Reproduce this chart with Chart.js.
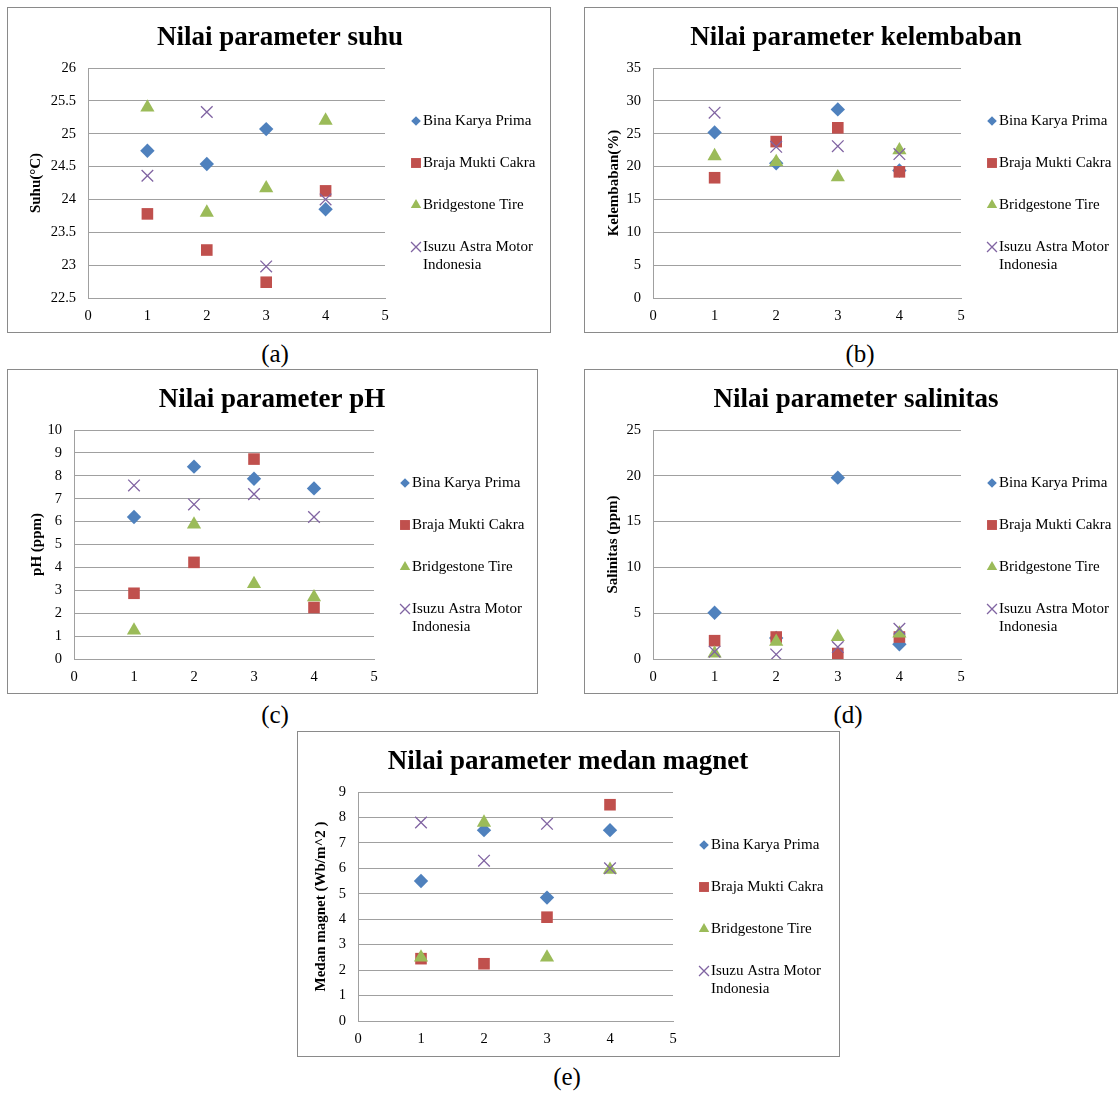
<!DOCTYPE html>
<html><head><meta charset="utf-8">
<script src="https://cdn.jsdelivr.net/npm/chart.js@4/dist/chart.umd.min.js"></script>
<style>
body{margin:0;background:#fff;width:1118px;height:1093px;position:relative;overflow:hidden;font-family:"Liberation Serif","Times New Roman",serif}
.box{position:absolute;border:1px solid #8a8a8a;box-sizing:border-box;pointer-events:none}
canvas{position:absolute}
.lab{position:absolute;font-size:25px;line-height:25px;width:60px;text-align:center;color:#000}
</style></head><body>
<script>
// ---- data ----
const xValues = [1, 2, 3, 4];
const seriesNames = ['Bina Karya Prima', 'Braja Mukti Cakra', 'Bridgestone Tire', 'Isuzu Astra Motor Indonesia'];
const legendLines = [['Bina Karya Prima'], ['Braja Mukti Cakra'], ['Bridgestone Tire'], ['Isuzu Astra Motor', 'Indonesia']];

const suhuBina   = [24.74, 24.54, 25.07, 23.85];
const suhuBraja  = [23.78, 23.23, 22.74, 24.13];
const suhuBridge = [25.40, 23.80, 24.17, 25.20];
const suhuIsuzu  = [24.36, 25.33, 22.98, 24.00];

const lembabBina   = [25.2, 20.5, 28.7, 19.4];
const lembabBraja  = [18.3, 23.8, 25.9, 19.2];
const lembabBridge = [21.6, 20.7, 18.4, 22.5];
const lembabIsuzu  = [28.2, 23.0, 23.1, 21.9];

const phBina   = [6.20, 8.40, 7.87, 7.45];
const phBraja  = [2.87, 4.22, 8.73, 2.25];
const phBridge = [1.25, 5.88, 3.28, 2.70];
const phIsuzu  = [7.58, 6.75, 7.20, 6.20];

const salBina   = [5.05, 2.3, 19.8, 1.6];
const salBraja  = [2.0, 2.4, 0.6, 2.4];
const salBridge = [0.6, 1.9, 2.4, 2.8];
const salIsuzu  = [0.8, 0.5, 1.3, 3.3];

const magBina   = [5.50, 7.50, 4.85, 7.50];
const magBraja  = [2.45, 2.25, 4.08, 8.50];
const magBridge = [2.50, 7.80, 2.50, 5.95];
const magIsuzu  = [7.80, 6.30, 7.75, 6.00];

// ---- styles / layout ----
const FONT = '"Liberation Serif", "Times New Roman", serif';
const GRID = '#a0a0a0';
const markers = [
  {style:'rectRot',  r:7.2, fill:'#4F81BD', stroke:'#4F81BD', bw:0,   lr:4.8},
  {style:'rect',     r:8.2, fill:'#C0504D', stroke:'#C0504D', bw:0,   lr:7.0},
  {style:'triangle', r:8.2, fill:'#9BBB59', stroke:'#9BBB59', bw:0,   lr:6.0},
  {style:'crossRot', r:8.2, fill:'rgba(0,0,0,0)', stroke:'#8064A2', bw:1.3, lr:7.0}
];

const panels = [
  {label:'(a)', labelPos:[275,355], title:'Nilai parameter suhu', titleX:280, yTitle:'Suhu(°C)',
   series:[suhuBina,suhuBraja,suhuBridge,suhuIsuzu], yMin:22.5, yMax:26, yStep:0.5,
   box:[7,7,544,326], plot:[88,68,385,298], yTitleX:36},
  {label:'(b)', labelPos:[860,355], title:'Nilai parameter kelembaban', titleX:856, yTitle:'Kelembaban(%)',
   series:[lembabBina,lembabBraja,lembabBridge,lembabIsuzu], yMin:0, yMax:35, yStep:5,
   box:[584,7,534,326], plot:[653,68,961,298], yTitleX:614},
  {label:'(c)', labelPos:[275,716], title:'Nilai parameter pH', titleX:272, yTitle:'pH (ppm)',
   series:[phBina,phBraja,phBridge,phIsuzu], yMin:0, yMax:10, yStep:1,
   box:[7,369,531,325], plot:[74,430,374,659], yTitleX:37},
  {label:'(d)', labelPos:[848,716], title:'Nilai parameter salinitas', titleX:856, yTitle:'Salinitas (ppm)',
   series:[salBina,salBraja,salBridge,salIsuzu], yMin:0, yMax:25, yStep:5,
   box:[584,369,534,325], plot:[653,430,961,659], yTitleX:613},
  {label:'(e)', labelPos:[567,1078], title:'Nilai parameter medan magnet', titleX:568, yTitle:'Medan magnet (Wb/m^2 )',
   series:[magBina,magBraja,magBridge,magIsuzu], yMin:0, yMax:9, yStep:1,
   box:[297,731,543,326], plot:[358,792,673,1021], yTitleX:321}
];

const decor = {
  id:'decor',
  afterDraw(chart, args, o){
    const ctx = chart.ctx;
    const ca = chart.chartArea;
    ctx.save();
    ctx.fillStyle = '#000';
    ctx.font = 'bold 27px ' + FONT;
    ctx.textAlign = 'center';
    ctx.textBaseline = 'alphabetic';
    ctx.fillText(o.title, o.titleX, 38);
    // legend
    const lx = ca.right + 31, tx = ca.right + 38;
    ctx.font = '15px ' + FONT;
    ctx.textAlign = 'left';
    ctx.textBaseline = 'middle';
    legendLines.forEach((lines, i) => {
      const y = ca.top + 53 + 42 * i;
      const m = markers[i];
      ctx.fillStyle = m.fill; ctx.strokeStyle = m.stroke; ctx.lineWidth = m.bw || 1;
      Chart.helpers.drawPoint(ctx, {pointStyle:m.style, radius:m.lr, rotation:0, borderWidth:m.bw}, lx, y);
      ctx.fillStyle = '#000';
      lines.forEach((t, k) => ctx.fillText(t, tx, y + 18 * k));
    });
    ctx.restore();
  }
};

const fmt = v => String(Number(Number(v).toFixed(2)));

panels.forEach(p => {
  const [bx, by, bw, bh] = p.box;
  const [pl, pt, pr, pb] = p.plot;
  const cv = document.createElement('canvas');
  cv.width = bw; cv.height = bh;
  Object.assign(cv.style, {left:bx+'px', top:by+'px', width:bw+'px', height:bh+'px'});
  document.body.appendChild(cv);
  const bd = document.createElement('div');
  bd.className = 'box';
  Object.assign(bd.style, {left:bx+'px', top:by+'px', width:bw+'px', height:bh+'px'});
  document.body.appendChild(bd);
  const lab = document.createElement('div');
  lab.className = 'lab'; lab.textContent = p.label;
  Object.assign(lab.style, {left:(p.labelPos[0]-30)+'px', top:(p.labelPos[1]-14.5)+'px'});
  document.body.appendChild(lab);

  const L = pl - bx, T = pt - by, R = pr - bx, B = pb - by;
  const yTitleSize = 15, lh = yTitleSize * 1.2;
  const titlePad = (p.yTitleX - bx) - lh / 2;

  new Chart(cv, {
    type:'scatter',
    data:{datasets: p.series.map((vals, i) => ({
      label: seriesNames[i],
      data: xValues.map((x, j) => ({x: x, y: vals[j]})),
      pointStyle: markers[i].style,
      pointRadius: markers[i].r,
      backgroundColor: markers[i].fill,
      borderColor: markers[i].stroke,
      borderWidth: markers[i].bw,
      order: 4 - i
    }))},
    options:{
      responsive:false, animation:false, devicePixelRatio:1,
      layout:{padding:{left:0, top:T, right:bw - R, bottom:0}},
      scales:{
        x:{type:'linear', min:0, max:5,
           afterFit: s => { s.height = bh - B; },
           ticks:{stepSize:1, color:'#000', font:{family:FONT, size:14.5}, padding:9, callback: fmt},
           grid:{display:false, drawTicks:false, tickLength:0},
           border:{display:true, color:GRID, width:1}},
        y:{type:'linear', min:p.yMin, max:p.yMax,
           afterFit: s => { s.width = L; },
           ticks:{stepSize:p.yStep, color:'#000', font:{family:FONT, size:14.5}, padding:12, callback: fmt},
           grid:{color:GRID, lineWidth:1, drawTicks:false, tickLength:0},
           border:{display:true, color:GRID, width:1},
           title:{display:true, text:p.yTitle, color:'#000',
                  font:{family:FONT, size:yTitleSize, weight:'bold'}, padding:{top:titlePad, bottom:0}}}
      },
      plugins:{legend:{display:false}, tooltip:{enabled:false}, title:{display:false},
               decor:{title:p.title, titleX:p.titleX - bx}}
    },
    plugins:[decor]
  });
});
</script>
</body></html>
